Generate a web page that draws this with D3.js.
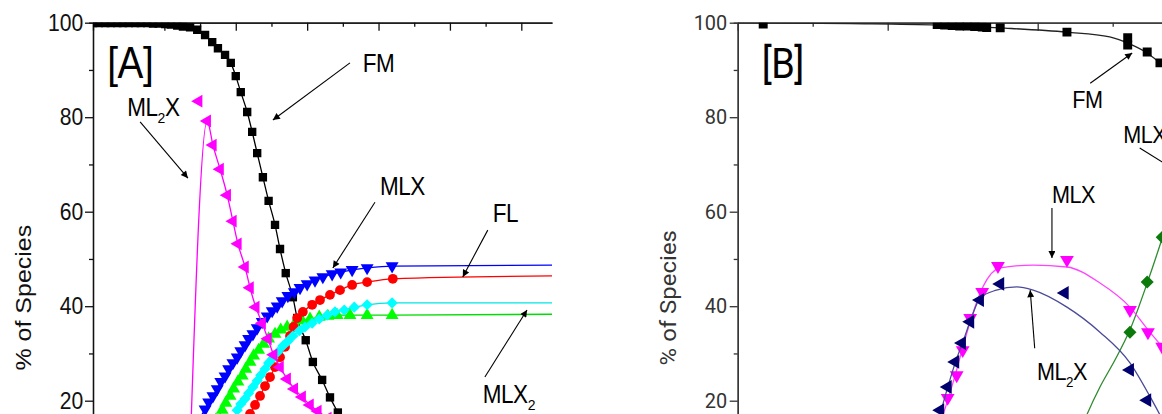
<!DOCTYPE html>
<html>
<head>
<meta charset="utf-8">
<script src="https://cdn.jsdelivr.net/npm/d3@7"></script>
<style>
  body { margin: 0; background: #fff; }
</style>
</head>
<body>
<svg id="chart" width="1162" height="414"></svg>
<script>
// ---------- data : panel A (x in axis units, y in % of species) ----------
const yMajor = [20, 40, 60, 80, 100];
const yMinor = [10, 30, 50, 70, 90];
const xMajorA = [0, 1, 2, 3, 4, 5, 6];
const xMinorA = [0.5, 1.5, 2.5, 3.5, 4.5, 5.5];
const xMajorB = [0, 2, 4, 6];
const xMinorB = [1, 3, 5];

const fmA = [[0,99.9],[0.08,99.9],[0.17,99.9],[0.25,99.9],[0.34,99.9],[0.42,99.9],[0.50,99.9],
  [0.59,99.9],[0.67,99.9],[0.76,99.9],[0.84,99.8],[0.92,99.8],[1.01,99.7],[1.09,99.6],[1.18,99.4],
  [1.26,99.2],[1.36,99.0],[1.46,98.5],[1.57,97.4],[1.67,95.9],[1.75,94.6],[1.85,93.2],[1.93,91.5],
  [2.00,88.7],[2.07,85.3],[2.16,81.1],[2.23,76.9],[2.30,72.4],[2.38,67.3],[2.46,62.3],[2.55,57.2],
  [2.62,52.1],[2.70,47.0],[2.80,41.9],[2.86,37.5],[2.98,32.8],[3.08,28.2],[3.21,24.4],[3.32,20.7],
  [3.43,17.5],[3.54,14.3],[3.68,10.6]];

const ml2xA = [[1.60,79.2],[1.68,74.1],[1.78,69.0],[1.88,63.5],[1.96,58.0],[2.03,53.2],[2.13,48.3],
  [2.20,43.9],[2.28,39.8],[2.37,36.4],[2.45,33.1],[2.53,29.7],[2.62,27.1],[2.72,24.6],[2.82,22.5],
  [2.93,20.8],[3.04,19.1],[3.15,17.8],[3.29,16.3],[3.46,14.9]];
const ml2xAStart = [[1.34, 0]];
const ml2xAExtra = [[1.48, 83.4]];

const mlxA = [[1.40,13.4],[1.48,15.9],[1.57,18.2],[1.62,19.7],[1.68,21.0],[1.74,22.5],[1.79,24.0],
  [1.85,25.2],[1.90,26.7],[1.96,28.0],[2.02,29.2],[2.07,30.5],[2.13,31.8],[2.18,33.1],[2.24,34.1],
  [2.30,35.4],[2.37,36.7],[2.44,37.9],[2.51,39.0],[2.58,40.0],[2.65,41.1],[2.73,42.2],[2.82,43.0],
  [2.90,43.9],[3.00,44.7],[3.11,45.5],[3.22,46.2],[3.35,46.8],[3.47,47.2],[3.63,47.7],[3.84,48.1],
  [4.19,48.5]];
const flA = [[2.13,15.0],[2.20,17.2],[2.27,19.1],[2.34,21.0],[2.41,23.1],[2.48,25.0],[2.55,27.1],
  [2.62,29.2],[2.69,31.4],[2.76,33.7],[2.81,35.6],[2.86,37.5],[2.94,38.8],[3.07,40.3],[3.18,41.3],
  [3.32,42.4],[3.46,43.4],[3.63,44.5],[3.84,45.1],[4.20,45.8]];
const cyanA = [[1.96,16.0],[2.02,18.0],[2.07,19.3],[2.13,20.4],[2.18,21.6],[2.24,22.9],[2.30,24.2],
  [2.35,25.4],[2.41,26.7],[2.46,28.0],[2.52,29.0],[2.59,30.3],[2.66,31.6],[2.73,32.6],[2.80,33.7],
  [2.89,34.8],[2.97,35.6],[3.07,36.4],[3.17,37.3],[3.28,38.1],[3.39,38.8],[3.52,39.2],[3.66,39.8],
  [3.84,40.3],[4.19,40.7]];
const mlx2A = [[1.72,15.9],[1.81,18.0],[1.86,19.5],[1.92,21.0],[1.97,22.5],[2.03,24.0],[2.09,25.3],
  [2.14,26.7],[2.20,28.2],[2.25,29.5],[2.32,30.7],[2.39,32.0],[2.46,33.1],[2.55,34.1],[2.63,35.0],
  [2.72,35.6],[2.82,36.2],[2.93,36.9],[3.04,37.3],[3.17,37.7],[3.29,37.9],[3.42,38.1],[3.60,38.1],
  [3.84,38.1],[4.19,38.1]];
// line values at the right end of panel A
const plateauA = { mlx: 48.7, fl: 46.4, cyan: 40.7, mlx2: 38.3 };

// ---------- data : panel B ----------
const fmB = [[0.34,99.7],[2.66,99.6],[2.76,99.5],[2.86,99.4],[2.96,99.3],[3.06,99.3],[3.16,99.2],
  [3.26,99.1],[3.32,99.0],[3.50,98.9],[4.39,98.0],[5.20,96.8],[5.20,95.3],[5.46,93.8],[5.63,91.5]];
const fmBFit = [[0,100],[1.50,99.8],[2.66,99.5],[3.50,98.9],[4.39,98.0],[4.96,97.0],[5.23,95.5],
  [5.46,93.6],[5.66,91.0],[5.90,86.8]];
const mlxB = [[2.80,20.6],[2.92,25.4],[3.00,30.7],[3.10,37.5],[3.26,43.0],[3.47,48.5],[4.39,49.8],
  [5.23,39.2],[5.47,34.5],[5.66,31.4]];
const mlxBFit = [[2.63,13.8],[2.74,17.2],[2.80,20.1],[2.90,25.4],[3.01,31.8],[3.10,36.7],[3.27,44.1],
  [3.50,48.1],[3.94,48.7],[4.39,48.3],[4.83,44.9],[5.23,39.8],[5.47,35.0],[5.66,31.4],[5.90,26.5]];
const ml2xB = [[2.70,18.0],[2.80,22.9],[2.90,28.2],[2.99,32.2],[3.10,36.7],[3.23,41.3],[3.50,44.7],
  [4.36,42.8],[5.23,26.5],[5.46,20.1]];
const ml2xBFit = [[2.59,13.8],[2.70,17.4],[2.79,22.3],[2.90,28.0],[3.01,32.8],[3.12,37.7],[3.23,41.7],
  [3.45,43.4],[3.72,44.1],[3.94,43.4],[4.39,39.8],[4.83,34.5],[5.23,28.0],[5.50,20.8],[5.70,14.9]];
const mlx2B = [[5.23,34.5],[5.46,45.1],[5.66,54.6]];
const mlx2BFit = [[4.56,13.4],[4.66,17.2],[4.83,22.9],[5.03,28.6],[5.23,35.0],[5.46,44.9],[5.66,54.4],
  [5.90,66.7]];

// annotations (positions in axis units)
const labelsA = [["FM", 3.78, 89.6], ["MLX", 4.02, 63.5], ["FL", 5.60, 57.8]];
const arrowsA = [[3.60,91.5,2.52,79.4],[0.66,79.0,1.33,67.1],[3.95,62.0,3.36,48.1],
  [5.53,56.1,5.18,46.2],[5.49,25.0,6.08,39.2]];
const labelsB = [["FM", 4.46, 81.9], ["MLX", 4.19, 61.8]];
const arrowsB = [[4.70,87.2,5.26,93.6],[5.36,73.5,5.83,68.8],[4.19,60.8,4.19,50.2],[3.96,31.1,3.90,43.4]];

// ---------- drawing ----------
const svg = d3.select("#chart");
const fontA = "'Liberation Sans', Arial, sans-serif";
const fontB = "Roboto, 'Liberation Sans', sans-serif";

const y = d3.scaleLinear().domain([0, 100]).range([495.2, 22.7]);
const xA = d3.scaleLinear().domain([0, 6.43]).range([93, 552]);
const xB = d3.scaleLinear().domain([0, 6.2]).range([737.7, 1202.7]);

svg.append("defs").append("marker")
  .attr("id", "head")
  .attr("viewBox", "0 0 10 10")
  .attr("refX", 10).attr("refY", 5)
  .attr("markerWidth", 9).attr("markerHeight", 7)
  .attr("markerUnits", "userSpaceOnUse")
  .attr("orient", "auto")
  .append("path").attr("d", "M0,0L10,5L0,10z").attr("fill", "#000");

function clip(id, x) {
  svg.select("defs").append("clipPath").attr("id", id)
    .append("rect").attr("x", x.range()[0]).attr("y", y(100))
    .attr("width", x.range()[1] - x.range()[0]).attr("height", 480);
}
clip("clipA", xA);
clip("clipB", xB);

function axes(x, xMaj, xMin, font, color, fs, sx, labelX, labelFs) {
  const g = svg.append("g").attr("font-family", font);
  const left = g.append("g").attr("transform", `translate(${x.range()[0]},0)`)
    .call(d3.axisLeft(y).tickValues(yMajor).tickSize(8).tickSizeOuter(0).tickPadding(3));
  left.selectAll("text").attr("font-size", fs).attr("fill", color)
    .attr("font-family", font).attr("transform", `scale(${sx},1)`);
  g.append("g").attr("transform", `translate(${x.range()[0]},0)`)
    .call(d3.axisLeft(y).tickValues(yMinor).tickSize(4).tickFormat(""));
  g.append("g").attr("transform", `translate(0,${y(100)})`)
    .call(d3.axisTop(x).tickValues(xMaj).tickSize(-8).tickSizeOuter(0).tickFormat(""));
  g.append("g").attr("transform", `translate(0,${y(100)})`)
    .call(d3.axisTop(x).tickValues(xMin).tickSize(-4).tickSizeOuter(0).tickFormat(""));
  g.selectAll("path, line").attr("stroke", color).attr("stroke-width", 1.3);
  g.append("text")
    .attr("transform", `translate(${labelX},${y(41.8)}) scale(${sx},1) rotate(-90)`)
    .attr("text-anchor", "middle").attr("font-size", labelFs).attr("fill", color)
    .text("% of Species");
}
axes(xA, xMajorA, xMinorA, fontA, "#111", 24, 0.88, 31, 25);
axes(xB, xMajorB, xMinorB, fontB, "#333", 21, 0.95, 676, 24);

const syms = {
  square: d3.symbol().type(d3.symbolSquare),
  circle: d3.symbol().type(d3.symbolCircle),
  tri: d3.symbol().type(d3.symbolTriangle),
  diamond: d3.symbol().type(d3.symbolSquare)
};
const rot = { down: 180, left: -90, up: 0, diamond: 45, none: 0 };

function series(x, clipId, pts, lineExtra, color, lineColor, type, turn, size) {
  const g = svg.append("g").attr("clip-path", `url(#${clipId})`);
  if (lineExtra) {
    const line = d3.line().x(d => x(d[0])).y(d => y(d[1])).curve(d3.curveMonotoneX);
    g.append("path").datum(lineExtra).attr("d", line)
      .attr("fill", "none").attr("stroke", lineColor).attr("stroke-width", 1.3);
  }
  g.selectAll("path.pt").data(pts).join("path").attr("class", "pt")
    .attr("d", syms[type].size(size)())
    .attr("transform", d => `translate(${x(d[0])},${y(d[1])}) rotate(${rot[turn]})`)
    .attr("fill", color);
}

// panel A
const endA = xA.domain()[1];
series(xA, "clipA", fmA, fmA, "#000", "#000", "square", "none", 70);
series(xA, "clipA", mlx2A, mlx2A.concat([[endA, plateauA.mlx2]]), "#00ff00", "#00dd00", "tri", "up", 72);
series(xA, "clipA", flA, flA.concat([[endA, plateauA.fl]]), "#ff0000", "#ff0000", "circle", "none", 75);
series(xA, "clipA", cyanA, cyanA.concat([[endA, plateauA.cyan]]), "#00ffff", "#00e5e5", "diamond", "diamond", 62);
series(xA, "clipA", mlxA, mlxA.concat([[endA, plateauA.mlx]]), "#0000ff", "#0000ff", "tri", "down", 72);
series(xA, "clipA", ml2xA, ml2xAStart.concat(ml2xA), "#ff00ff", "#ff00ff", "tri", "left", 72);
series(xA, "clipA", ml2xAExtra, null, "#ff00ff", null, "tri", "left", 72);

// panel B
series(xB, "clipB", fmB, fmBFit, "#000", "#222", "square", "none", 80);
series(xB, "clipB", mlx2B, mlx2BFit, "#0b7a0b", "#2e8b2e", "diamond", "diamond", 85);
series(xB, "clipB", mlxB, mlxBFit, "#ff00ff", "#ff44ff", "tri", "down", 82);
series(xB, "clipB", ml2xB, ml2xBFit, "#00006e", "#4a4a99", "tri", "left", 82);

// annotations
function arrows(x, list) {
  svg.append("g").selectAll("line").data(list).join("line")
    .attr("x1", d => x(d[0])).attr("y1", d => y(d[1]))
    .attr("x2", d => x(d[2])).attr("y2", d => y(d[3]))
    .attr("stroke", "#000").attr("stroke-width", 1.1)
    .attr("marker-end", "url(#head)");
}
arrows(xA, arrowsA);
arrows(xB, arrowsB);

// parts: [text, dy, isSubscript]
function label(x, vx, vy, parts, fs, font, sx) {
  const t = svg.append("text")
    .attr("transform", `translate(${x(vx)},${y(vy)}) scale(${sx},1)`)
    .attr("font-family", font).attr("font-size", fs).attr("fill", "#000")
    .attr("letter-spacing", -0.5);
  parts.forEach(p => {
    t.append("tspan").text(p[0]).attr("font-size", p[2] ? fs * 0.62 : fs)
      .attr("dy", p[1] || 0);
  });
}
labelsA.forEach(d => label(xA, d[1], d[2], [[d[0]]], 25, fontA, 0.9));
label(xA, 0.48, 80.2, [["ML"], ["2", 7, true], ["X", -7]], 25, fontA, 0.9);
label(xA, 5.46, 19.5, [["MLX"], ["2", 7, true]], 25, fontA, 0.9);
label(xA, 0.20, 88.3, [["[A]"]], 44, fontA, 0.88);

labelsB.forEach(d => label(xB, d[1], d[2], [[d[0]]], 24, fontA, 0.9));
label(xB, 5.14, 74.5, [["MLX"], ["2", 7, true]], 24, fontA, 0.9);
label(xB, 3.99, 24.4, [["ML"], ["2", 7, true], ["X", -7]], 24, fontA, 0.9);
label(xB, 0.32, 88.3, [["[B]"]], 42, fontB, 0.9);
</script>
</body>
</html>
